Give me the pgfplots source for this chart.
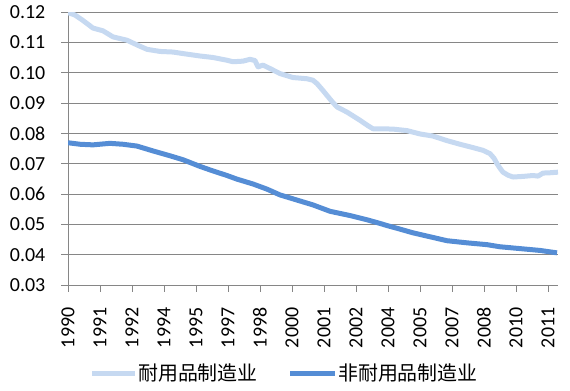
\documentclass[border=0pt]{standalone}
\usepackage{pgfplots}
\pgfplotsset{compat=1.18}
\usepackage{fontspec}
\setmainfont{Carlito}
\newfontfamily\cjk{Noto Sans CJK SC}
\definecolor{lightblue}{RGB}{198,217,241}
\definecolor{darkblue}{RGB}{85,141,213}
\definecolor{axgray}{RGB}{134,134,134}
\begin{document}
\begin{tikzpicture}
\begin{axis}[
  scale only axis,
  width=490bp, height=273bp,
  at={(0,0)}, anchor=south west,
  xmin=0, xmax=490, ymin=0.03, ymax=0.12,
  axis x line*=bottom, axis y line*=left,
  axis line style={axgray, line width=0.8bp, -},
  xtick={0,32,...,480},
  xticklabels={1990,1991,1992,1994,1995,1997,1998,2000,2001,2002,2004,2005,2007,2008,2010,2011},
  ytick={0.03,0.04,...,0.121},
  ymajorgrids,
  grid style={axgray, line width=0.8bp},
  tick align=outside,
  major tick length=6.5bp,
  tick style={axgray, line width=0.8bp},
  tick label style={font=\fontsize{20}{24}\selectfont, text=black},
  xticklabel style={rotate=90, anchor=east, inner sep=0pt},
  yticklabel style={anchor=east, inner sep=0pt},
  xticklabel shift=16bp,
  yticklabel shift=16bp,
  /pgf/number format/.cd, fixed, fixed zerofill, precision=2, assume math mode=true,
]
\addplot[lightblue, line width=5bp, line join=round] coordinates {
(0,0.1198)(7,0.1190)(15,0.1172)(25,0.1147)(35,0.1138)(45,0.1118)(59,0.1107)(70,0.1090)(79,0.1077)(92,0.1070)(105,0.1068)(115,0.1063)(132,0.1055)(145,0.1050)(159,0.1041)(165,0.1036)(175,0.1038)(182,0.1044)(187,0.1040)(190,0.1019)(195,0.1025)(203,0.1012)(212,0.0997)(225,0.0984)(239,0.0980)(245,0.0975)(249,0.0964)(254,0.0945)(259,0.0925)(264,0.0905)(269,0.0887)(279,0.0870)(292,0.0843)(300,0.0825)(305,0.0815)(312,0.0815)(325,0.0814)(339,0.0809)(352,0.0798)(365,0.0791)(379,0.0776)(392,0.0764)(405,0.0753)(415,0.0744)(422,0.0733)(426,0.0718)(429,0.0700)(432,0.0685)(435,0.0672)(440,0.0662)(445,0.0656)(455,0.0658)(465,0.0661)(470,0.0659)(475,0.0669)(482,0.0670)(490,0.0672)
};
\addplot[darkblue, line width=5bp, line join=round] coordinates {
(0,0.0769)(12,0.0764)(25,0.0762)(35,0.0765)(42,0.0767)(55,0.0764)(69,0.0758)(85,0.0742)(102,0.0726)(115,0.0713)(132,0.0691)(145,0.0676)(159,0.0661)(169,0.0649)(185,0.0633)(199,0.0616)(212,0.0597)(229,0.0580)(245,0.0564)(262,0.0543)(282,0.0529)(299,0.0515)(312,0.0503)(319,0.0496)(329,0.0487)(345,0.0472)(362,0.0459)(379,0.0446)(399,0.0439)(419,0.0433)(432,0.0426)(452,0.0420)(472,0.0414)(489,0.0406)
};
\end{axis}
% legend
\begin{scope}[font=\cjk\fontsize{20}{24}\selectfont]
\draw[lightblue, line width=5bp] (24bp,-88bp) -- (67bp,-88bp);
\node[anchor=west, inner sep=0pt, text=black] at (70bp,-88bp) {耐用品制造业};
\draw[darkblue, line width=5bp] (222bp,-88bp) -- (267bp,-88bp);
\node[anchor=west, inner sep=0pt, text=black] at (270bp,-88bp) {非耐用品制造业};
\end{scope}
\pgfresetboundingbox
\path[use as bounding box] (-68bp,-106bp) rectangle (502bp,285bp);
\end{tikzpicture}
\end{document}
